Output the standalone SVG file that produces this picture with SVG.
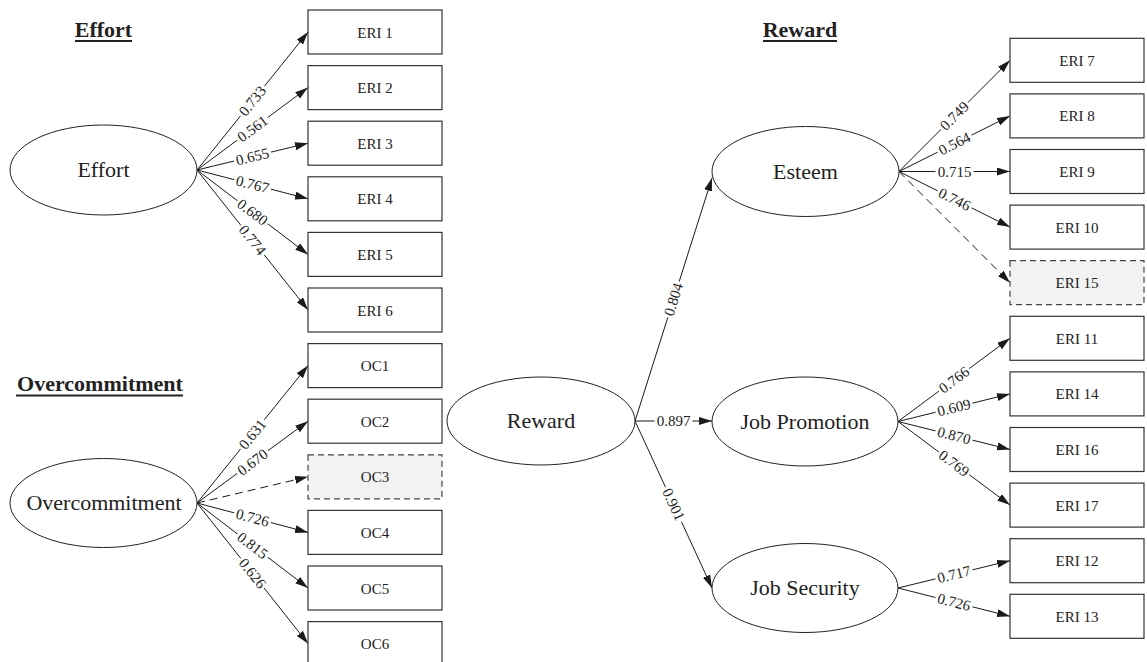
<svg xmlns="http://www.w3.org/2000/svg" width="1147" height="662" viewBox="0 0 1147 662">
<defs>
<marker id="ah" markerUnits="userSpaceOnUse" markerWidth="14" markerHeight="10" refX="13" refY="4" orient="auto">
<path d="M0,0 L13,4 L0,8 z" fill="#1a1a1a"/>
</marker>
<style>
.bx{fill:#fff;stroke:#333;stroke-width:1.2}
.bxd{fill:#f2f2f3;stroke:#444;stroke-width:1.2;stroke-dasharray:6,4}
.el{fill:#fff;stroke:#222;stroke-width:1}
.bt{font-family:"Liberation Serif",serif;font-size:15px;fill:#222;text-anchor:middle}
.et{font-family:"Liberation Serif",serif;font-size:22px;fill:#222;text-anchor:middle}
.tt{font-family:"Liberation Serif",serif;font-size:22px;font-weight:bold;fill:#222;text-anchor:middle}
.ul{stroke:#222;stroke-width:2}
.ed{stroke:#1a1a1a;stroke-width:1;fill:none;marker-end:url(#ah)}
.edd{stroke:#1a1a1a;stroke-width:1;fill:none;stroke-dasharray:8,5;marker-end:url(#ah)}
.lb{fill:#fff}
.lt{font-family:"Liberation Serif",serif;font-size:15px;fill:#222;text-anchor:middle}
</style>
</defs>
<rect width="1147" height="662" fill="#fff"/>

<g id="titles">
<text class="tt" x="103.5" y="37">Effort</text>
<line class="ul" x1="75" y1="41" x2="132" y2="41"/>
<text class="tt" x="100" y="391">Overcommitment</text>
<line class="ul" x1="16" y1="395.5" x2="183" y2="395.5"/>
<text class="tt" x="800" y="37">Reward</text>
<line class="ul" x1="763" y1="41" x2="837" y2="41"/>
</g>

<g id="connectors">
<line class="ed" x1="197" y1="170" x2="308" y2="32"/>
<line class="ed" x1="197" y1="170" x2="308" y2="87.6"/>
<line class="ed" x1="197" y1="170" x2="308" y2="143.2"/>
<line class="ed" x1="197" y1="170" x2="308" y2="198.8"/>
<line class="ed" x1="197" y1="170" x2="308" y2="254.4"/>
<line class="ed" x1="197" y1="170" x2="308" y2="310"/>
<line class="ed" x1="197" y1="503" x2="308" y2="365.6"/>
<line class="ed" x1="197" y1="503" x2="308" y2="421.2"/>
<line class="edd" x1="197" y1="503" x2="308" y2="476.8"/>
<line class="ed" x1="197" y1="503" x2="308" y2="532.4"/>
<line class="ed" x1="197" y1="503" x2="308" y2="588"/>
<line class="ed" x1="197" y1="503" x2="308" y2="643.6"/>
<line class="ed" x1="635" y1="421" x2="712" y2="178"/>
<line class="ed" x1="635" y1="421" x2="712" y2="421"/>
<line class="ed" x1="635" y1="421" x2="712" y2="588"/>
<line class="ed" x1="899" y1="171.5" x2="1010" y2="60.3"/>
<line class="ed" x1="899" y1="171.5" x2="1010" y2="115.9"/>
<line class="ed" x1="899" y1="171.5" x2="1010" y2="171.5"/>
<line class="ed" x1="899" y1="171.5" x2="1010" y2="227.1"/>
<line class="edd" x1="899" y1="171.5" x2="1010" y2="282.7"/>
<line class="ed" x1="898" y1="421.5" x2="1010" y2="338.3"/>
<line class="ed" x1="898" y1="421.5" x2="1010" y2="393.9"/>
<line class="ed" x1="898" y1="421.5" x2="1010" y2="449.5"/>
<line class="ed" x1="898" y1="421.5" x2="1010" y2="505.1"/>
<line class="ed" x1="898" y1="588" x2="1010" y2="560.7"/>
<line class="ed" x1="898" y1="588" x2="1010" y2="616.3"/>

<g transform="translate(252.5,101) rotate(-51.19)"><rect class="lb" x="-19" y="-5" width="38" height="10"/><text class="lt" x="0" y="5">0.733</text></g>
<g transform="translate(252.5,128.8) rotate(-36.59)"><rect class="lb" x="-19" y="-5" width="38" height="10"/><text class="lt" x="0" y="5">0.561</text></g>
<g transform="translate(252.5,156.6) rotate(-13.57)"><rect class="lb" x="-19" y="-5" width="38" height="10"/><text class="lt" x="0" y="5">0.655</text></g>
<g transform="translate(252.5,184.4) rotate(14.55)"><rect class="lb" x="-19" y="-5" width="38" height="10"/><text class="lt" x="0" y="5">0.767</text></g>
<g transform="translate(252.5,212.2) rotate(37.25)"><rect class="lb" x="-19" y="-5" width="38" height="10"/><text class="lt" x="0" y="5">0.680</text></g>
<g transform="translate(252.5,240) rotate(51.59)"><rect class="lb" x="-19" y="-5" width="38" height="10"/><text class="lt" x="0" y="5">0.774</text></g>
<g transform="translate(252.5,434.3) rotate(-51.07)"><rect class="lb" x="-19" y="-5" width="38" height="10"/><text class="lt" x="0" y="5">0.631</text></g>
<g transform="translate(252.5,462.1) rotate(-36.38)"><rect class="lb" x="-19" y="-5" width="38" height="10"/><text class="lt" x="0" y="5">0.670</text></g>
<g transform="translate(252.5,517.7) rotate(14.83)"><rect class="lb" x="-19" y="-5" width="38" height="10"/><text class="lt" x="0" y="5">0.726</text></g>
<g transform="translate(252.5,545.5) rotate(37.44)"><rect class="lb" x="-19" y="-5" width="38" height="10"/><text class="lt" x="0" y="5">0.815</text></g>
<g transform="translate(252.5,573.3) rotate(51.71)"><rect class="lb" x="-19" y="-5" width="38" height="10"/><text class="lt" x="0" y="5">0.626</text></g>
<g transform="translate(673.5,299.5) rotate(-72.42)"><rect class="lb" x="-19" y="-5" width="38" height="10"/><text class="lt" x="0" y="5">0.804</text></g>
<g transform="translate(673.5,421)"><rect class="lb" x="-19" y="-5" width="38" height="10"/><text class="lt" x="0" y="5">0.897</text></g>
<g transform="translate(673.5,504.5) rotate(65.25)"><rect class="lb" x="-19" y="-5" width="38" height="10"/><text class="lt" x="0" y="5">0.901</text></g>
<g transform="translate(954.5,115.9) rotate(-45.05)"><rect class="lb" x="-19" y="-5" width="38" height="10"/><text class="lt" x="0" y="5">0.749</text></g>
<g transform="translate(954.5,143.7) rotate(-26.6)"><rect class="lb" x="-19" y="-5" width="38" height="10"/><text class="lt" x="0" y="5">0.564</text></g>
<g transform="translate(954.5,171.5)"><rect class="lb" x="-19" y="-5" width="38" height="10"/><text class="lt" x="0" y="5">0.715</text></g>
<g transform="translate(954.5,199.3) rotate(26.6)"><rect class="lb" x="-19" y="-5" width="38" height="10"/><text class="lt" x="0" y="5">0.746</text></g>
<g transform="translate(954,379.9) rotate(-36.6)"><rect class="lb" x="-19" y="-5" width="38" height="10"/><text class="lt" x="0" y="5">0.766</text></g>
<g transform="translate(954,407.7) rotate(-13.84)"><rect class="lb" x="-19" y="-5" width="38" height="10"/><text class="lt" x="0" y="5">0.609</text></g>
<g transform="translate(954,435.5) rotate(14.04)"><rect class="lb" x="-19" y="-5" width="38" height="10"/><text class="lt" x="0" y="5">0.870</text></g>
<g transform="translate(954,463.3) rotate(36.74)"><rect class="lb" x="-19" y="-5" width="38" height="10"/><text class="lt" x="0" y="5">0.769</text></g>
<g transform="translate(954,574.35) rotate(-13.7)"><rect class="lb" x="-19" y="-5" width="38" height="10"/><text class="lt" x="0" y="5">0.717</text></g>
<g transform="translate(954,602.15) rotate(14.18)"><rect class="lb" x="-19" y="-5" width="38" height="10"/><text class="lt" x="0" y="5">0.726</text></g>
</g>

<g id="n-effort"><ellipse class="el" cx="103.5" cy="170" rx="93.5" ry="45"/><text class="et" x="103.5" y="177">Effort</text></g>
<g id="n-overcommitment"><ellipse class="el" cx="103.5" cy="503" rx="93.5" ry="44.5"/><text class="et" x="104" y="510">Overcommitment</text></g>
<g id="n-reward"><ellipse class="el" cx="541" cy="421" rx="94" ry="44"/><text class="et" x="541" y="428">Reward</text></g>
<g id="n-esteem"><ellipse class="el" cx="805.5" cy="171.5" rx="93.5" ry="45"/><text class="et" x="805.5" y="178.5">Esteem</text></g>
<g id="n-jobpromotion"><ellipse class="el" cx="805" cy="421.5" rx="93" ry="44.5"/><text class="et" x="805" y="428.5">Job Promotion</text></g>
<g id="n-jobsecurity"><ellipse class="el" cx="805" cy="588" rx="93" ry="44.5"/><text class="et" x="805" y="595">Job Security</text></g>

<g id="n-eri1"><rect class="bx" x="308" y="10" width="134" height="44"/><text class="bt" x="375" y="37.5">ERI 1</text></g>
<g id="n-eri2"><rect class="bx" x="308" y="65.6" width="134" height="44"/><text class="bt" x="375" y="93.1">ERI 2</text></g>
<g id="n-eri3"><rect class="bx" x="308" y="121.2" width="134" height="44"/><text class="bt" x="375" y="148.7">ERI 3</text></g>
<g id="n-eri4"><rect class="bx" x="308" y="176.8" width="134" height="44"/><text class="bt" x="375" y="204.3">ERI 4</text></g>
<g id="n-eri5"><rect class="bx" x="308" y="232.4" width="134" height="44"/><text class="bt" x="375" y="259.9">ERI 5</text></g>
<g id="n-eri6"><rect class="bx" x="308" y="288" width="134" height="44"/><text class="bt" x="375" y="315.5">ERI 6</text></g>
<g id="n-oc1"><rect class="bx" x="308" y="343.6" width="134" height="44"/><text class="bt" x="375" y="371.1">OC1</text></g>
<g id="n-oc2"><rect class="bx" x="308" y="399.2" width="134" height="44"/><text class="bt" x="375" y="426.7">OC2</text></g>
<g id="n-oc3"><rect class="bxd" x="308" y="454.8" width="134" height="44"/><text class="bt" x="375" y="482.3">OC3</text></g>
<g id="n-oc4"><rect class="bx" x="308" y="510.4" width="134" height="44"/><text class="bt" x="375" y="537.9">OC4</text></g>
<g id="n-oc5"><rect class="bx" x="308" y="566" width="134" height="44"/><text class="bt" x="375" y="593.5">OC5</text></g>
<g id="n-oc6"><rect class="bx" x="308" y="621.6" width="134" height="44"/><text class="bt" x="375" y="649.1">OC6</text></g>

<g id="n-eri7"><rect class="bx" x="1010" y="38.3" width="134" height="44"/><text class="bt" x="1077" y="65.8">ERI 7</text></g>
<g id="n-eri8"><rect class="bx" x="1010" y="93.9" width="134" height="44"/><text class="bt" x="1077" y="121.4">ERI 8</text></g>
<g id="n-eri9"><rect class="bx" x="1010" y="149.5" width="134" height="44"/><text class="bt" x="1077" y="177">ERI 9</text></g>
<g id="n-eri10"><rect class="bx" x="1010" y="205.1" width="134" height="44"/><text class="bt" x="1077" y="232.6">ERI 10</text></g>
<g id="n-eri15"><rect class="bxd" x="1010" y="260.7" width="134" height="44"/><text class="bt" x="1077" y="288.2">ERI 15</text></g>
<g id="n-eri11"><rect class="bx" x="1010" y="316.3" width="134" height="44"/><text class="bt" x="1077" y="343.8">ERI 11</text></g>
<g id="n-eri14"><rect class="bx" x="1010" y="371.9" width="134" height="44"/><text class="bt" x="1077" y="399.4">ERI 14</text></g>
<g id="n-eri16"><rect class="bx" x="1010" y="427.5" width="134" height="44"/><text class="bt" x="1077" y="455">ERI 16</text></g>
<g id="n-eri17"><rect class="bx" x="1010" y="483.1" width="134" height="44"/><text class="bt" x="1077" y="510.6">ERI 17</text></g>
<g id="n-eri12"><rect class="bx" x="1010" y="538.7" width="134" height="44"/><text class="bt" x="1077" y="566.2">ERI 12</text></g>
<g id="n-eri13"><rect class="bx" x="1010" y="594.3" width="134" height="44"/><text class="bt" x="1077" y="621.8">ERI 13</text></g>
</svg>
